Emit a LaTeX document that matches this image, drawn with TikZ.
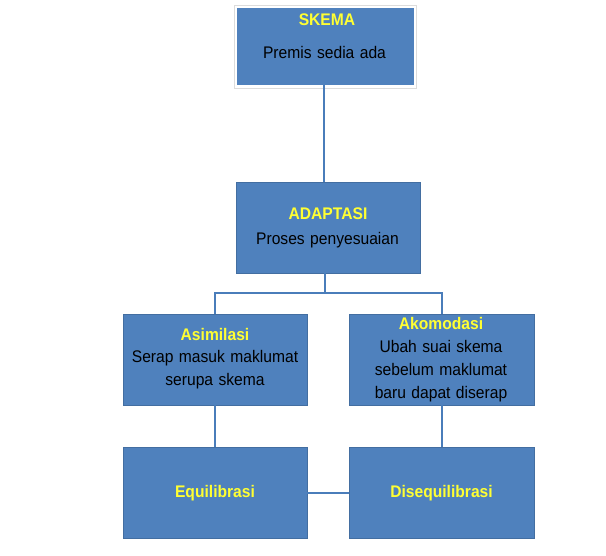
\documentclass[tikz,border=0pt]{standalone}
\usepackage{fontspec}
\setmainfont[FakeStretch=0.93,WordSpace={1.25,1,1}]{Liberation Sans}
\definecolor{boxblue}{HTML}{4F81BD}
\definecolor{lineblue}{HTML}{4A7DBA}
\definecolor{ylw}{HTML}{FFFF33}
\definecolor{frame}{HTML}{DCDCDC}
\begin{document}
\begin{tikzpicture}[x=1pt,y=-1pt,
  bluebox/.style={fill=boxblue, draw=boxblue!85!black, line width=0.6pt},
  conn/.style={draw=lineblue, line width=2pt},
  ttl/.style={text=ylw, font=\fontsize{16.8}{20}\selectfont\bfseries, anchor=base},
  txt/.style={text=black, font=\fontsize{16.8}{20}\selectfont, anchor=base},
  every node/.style={inner sep=0pt, outer sep=0pt}]
\useasboundingbox (0,0) rectangle (606,556);
% boxes
\draw[frame, line width=1.6pt] (234.5,5.5) rectangle (416.5,88.5);
\node[fill=white, minimum width=179pt, minimum height=80pt] at (325.5,47) {};
\node[fill=boxblue, minimum width=177pt, minimum height=77pt] (skema) at (325.5,46.5) {};
\node[bluebox, minimum width=184pt, minimum height=91pt] (adaptasi) at (328,227.5) {};
\node[bluebox, minimum width=184pt, minimum height=91pt] (asim) at (215,359.5) {};
\node[bluebox, minimum width=185pt, minimum height=91pt] (akom) at (441.5,359.5) {};
\node[bluebox, minimum width=184pt, minimum height=91pt] (equi) at (215,492.5) {};
\node[bluebox, minimum width=185pt, minimum height=91pt] (diseq) at (441.5,492.5) {};
% texts
\node[ttl] (t1) at (327,26) {SKEMA};
\node[txt] (t2) at (324.5,59) {Premis sedia ada};
\node[ttl] (t3) at (328,220) {ADAPTASI};
\node[txt] (t4) at (327.5,245) {Proses penyesuaian};
\node[ttl] (t5) at (215,341) {Asimilasi};
\node[txt] (t6) at (215,363) {Serap masuk maklumat};
\node[txt] (t7) at (215,386) {serupa skema};
\node[ttl] (t8) at (441,330) {Akomodasi};
\node[txt] (t9) at (441,353) {Ubah suai skema};
\node[txt] (t10) at (441,376) {sebelum maklumat};
\node[txt] (t11) at (441,398.5) {baru dapat diserap};
\node[ttl] (t12) at (215,497) {Equilibrasi};
\node[ttl] (t13) at (441.5,497) {Disequilibrasi};
% connectors
\coordinate (hj) at (325,293);
\draw[conn] (skema.south -| 324,0) -- (adaptasi.north -| 324,0);
\draw[conn] (adaptasi.south -| hj) -- (hj);
\draw[conn] (asim.north) -- (asim.north |- hj) -- (akom.north |- hj) -- (akom.north);
\draw[conn] (asim.south) -- (equi.north);
\draw[conn] (akom.south) -- (diseq.north);
\draw[conn] (equi.east) -- (diseq.west);
\end{tikzpicture}
\end{document}
